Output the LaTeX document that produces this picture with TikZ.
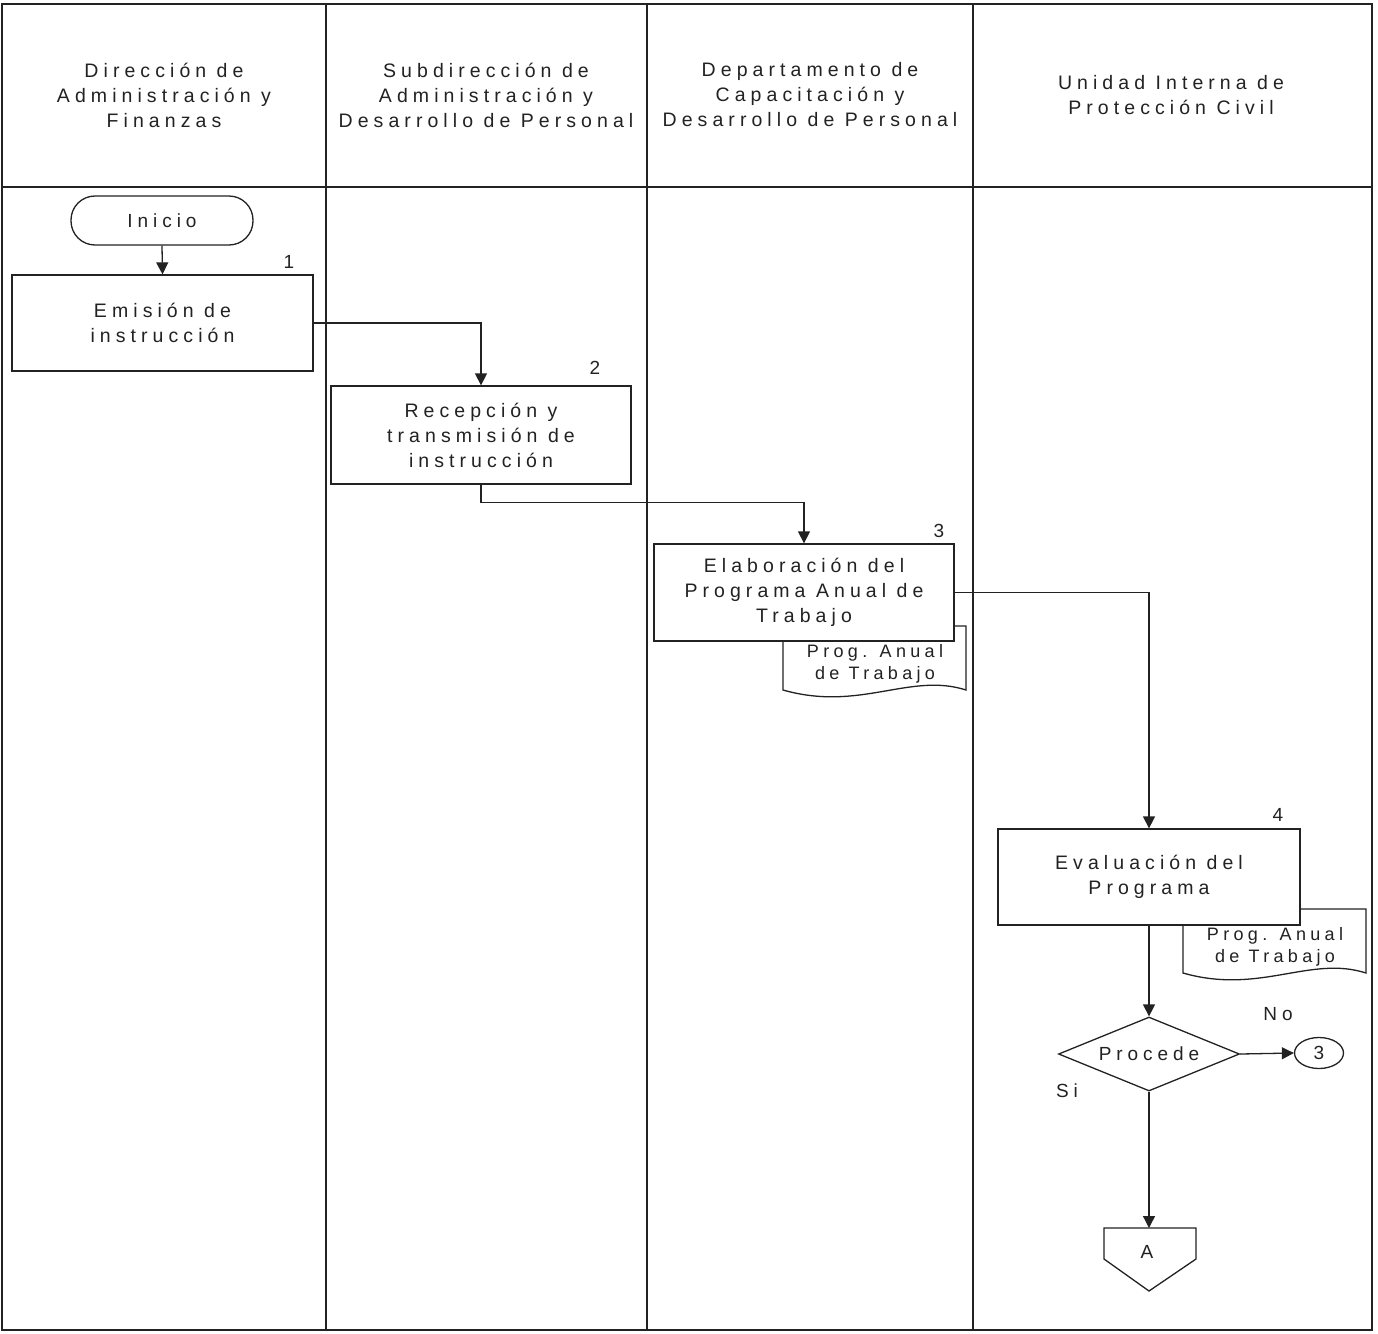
\documentclass[tikz,border=0pt]{standalone}
\usepackage{fontspec}
\setmainfont{Liberation Sans}[LetterSpace=26]
\newfontfamily\docfont{Liberation Sans}[LetterSpace=24]
\usetikzlibrary{shapes.geometric,arrows.meta}
\definecolor{ink}{HTML}{222222}
\begin{document}
\begin{tikzpicture}[x=1pt,y=-1pt,
  every node/.style={text=ink},
  lane/.style={draw=ink,line width=1.4pt},
  txt/.style={font=\fontsize{19.5}{25}\selectfont,align=center,inner sep=0},
  proc/.style={draw=ink,line width=1.3pt,fill=white,minimum width=301pt,font=\fontsize{19.5}{25}\selectfont,align=center},
  docsh/.style={draw=ink,line width=1.3pt,fill=white},
  doctxt/.style={font=\docfont\fontsize{18}{22}\selectfont,align=center,inner sep=0},
  num/.style={font=\fontsize{19}{22}\selectfont,inner sep=0},
  arr/.style={draw=ink,line width=1.3pt,-{Triangle[length=12pt,width=12pt]}}]
\useasboundingbox (0,0) rectangle (1378,1333);
\fill[white] (0,0) rectangle (1378,1333);
% lanes
\draw[lane] (2,4) rectangle (1372,1330);
\draw[lane] (2,187) -- (1372,187);
\draw[lane] (326,4) -- (326,1330);
\draw[lane] (647,4) -- (647,1330);
\draw[lane] (973,4) -- (973,1330);
% headers
\node[txt] (h1) at (164,95) {Dirección de\\Administración y\\Finanzas};
\node[txt] (h2) at (486,95) {Subdirección de\\Administración y\\Desarrollo de Personal};
\node[txt] (h3) at (810,95) {Departamento de\\Capacitación y\\Desarrollo de Personal};
\node[txt] (h4) at (1171,95) {Unidad Interna de\\Protección Civil};
% start
\node[draw=ink,line width=1.3pt,rounded corners=24pt,minimum width=182pt,minimum height=49pt,font=\fontsize{19}{22}\selectfont] (ini) at (162,220.5) {Inicio};
% step 1
\node[proc,minimum height=96pt] (b1) at (162.5,323) {Emisión de\\instrucción};
\node[num] (n1) at (289,262) {1};
% step 2
\node[proc,minimum height=98pt,minimum width=300pt] (b2) at (481,435) {Recepción y\\transmisión de\\instrucción};
\node[num] (n2) at (595,368) {2};
% step 3 document
\draw[docsh] (783,626) -- (966,626) -- (966,690) .. controls (910,672) and (860,712) .. (783,690) -- cycle;
\node[doctxt] (d1) at (875,664) {Prog. Anual\\de Trabajo};
\node[proc,minimum height=97pt,minimum width=300pt] (b3) at (804,592.5) {Elaboración del\\Programa Anual de\\Trabajo};
\node[num] (n3) at (939,531) {3};
% step 4 document
\draw[docsh] (1183,909) -- (1366,909) -- (1366,973) .. controls (1310,955) and (1260,995) .. (1183,973) -- cycle;
\node[doctxt] (d2) at (1275,947) {Prog. Anual\\de Trabajo};
\node[proc,minimum height=96pt,minimum width=302pt] (b4) at (1149,877) {Evaluación del\\Programa};
\node[num] (n4) at (1278,815) {4};
% decision
\node[draw=ink,line width=1.3pt,diamond,aspect=2.45,minimum width=181pt,minimum height=74pt,inner sep=0,font=\fontsize{19}{22}\selectfont] (dec) at (1149,1054) {Procede};
\node[draw=ink,line width=1.3pt,ellipse,minimum width=49pt,minimum height=31pt,inner sep=0,font=\fontsize{19}{22}\selectfont] (c3) at (1319,1053) {3};
\node[num] (no) at (1278,1014) {No};
\node[num] (si) at (1067,1091) {Si};
% off-page connector
\coordinate (Atop) at (1149,1228);
\draw[draw=ink,line width=1.3pt] (1104,1228) -- (1196,1228) -- (1196,1259) -- (1149,1291) -- (1104,1259) -- cycle;
\node[font=\fontsize{19}{22}\selectfont,inner sep=0] (A) at (1147,1252) {A};
% connectors
\draw[arr] (ini.south) -- (b1.north);
\draw[arr] (b1.east) -| (b2.north);
\draw[arr] (b2.south) -- ++(0,18) -| (b3.north);
\draw[arr] (b3.east) -| (b4.north);
\draw[arr] (b4.south) -- (dec.north);
\draw[arr] (dec.east) -- (c3.west);
\draw[arr] (dec.south) -- (Atop);
\end{tikzpicture}
\end{document}
